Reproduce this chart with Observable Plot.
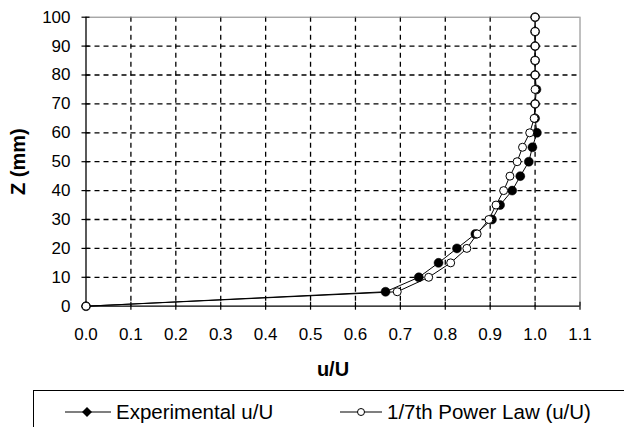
<!DOCTYPE html>
<html>
<head>
<meta charset="utf-8">
<script src="https://cdn.jsdelivr.net/npm/d3@7"></script>
<script src="https://cdn.jsdelivr.net/npm/@observablehq/plot@0.6"></script>
<style>
  html, body { margin: 0; padding: 0; background: #fff; }
  body { width: 624px; height: 427px; overflow: hidden; position: relative; font-family: "Liberation Sans", Arial, sans-serif; color: #000; }
  #chart { position: absolute; left: 0; top: 0; }
  #legend { position: absolute; left: 33px; top: 390px; width: 640px; height: 60px; border: 1px solid #000; box-sizing: border-box; }
  .item { position: absolute; top: 10px; height: 22px; display: flex; align-items: center; font-size: 20.5px; line-height: 1; white-space: nowrap; }
  .item svg { display: block; margin-right: 5px; }
</style>
</head>
<body>
<div id="chart"></div>
<div id="legend">
  <div class="item" style="left:31px">
    <svg width="46" height="14" viewBox="0 0 46 14"><line x1="0" y1="7" x2="46" y2="7" stroke="#000" stroke-width="1.2"/><path d="M22,2 L27,7 L22,12 L17,7 Z" fill="#000"/></svg>
    <span>Experimental u/U</span>
  </div>
  <div class="item" style="left:306px">
    <svg width="42" height="14" viewBox="0 0 42 14"><line x1="0" y1="7" x2="42" y2="7" stroke="#000" stroke-width="1.2"/><circle cx="21" cy="7" r="3.5" fill="#fff" stroke="#000" stroke-width="1"/></svg>
    <span>1/7th Power Law (u/U)</span>
  </div>
</div>
<script>
// Height above the floor, mm
const zExp = [0, 5, 10, 15, 20, 25, 30, 35, 40, 45, 50, 55, 60, 65, 70, 75, 80, 85, 90, 95, 100];
// Experimental u/U
const uExp = [0, 0.667, 0.741, 0.785, 0.826, 0.867, 0.904, 0.922, 0.949, 0.967, 0.986, 0.994, 1.004, 1.0, 1.0, 1.003, 1.0, 1.0, 1.0, 1.0, 1.0];
const zPow = [0, 5, 10, 15, 20, 25, 30, 35, 40, 45, 50, 55, 60, 65, 70, 75, 80, 85, 90, 95, 100];
// 1/7th power law u/U
const uPow = [0, 0.693, 0.763, 0.812, 0.848, 0.871, 0.897, 0.913, 0.930, 0.944, 0.960, 0.972, 0.988, 0.998, 1.0, 1.0, 1.0, 1.0, 1.0, 1.0, 1.0];

const xTicks = [0, 0.1, 0.2, 0.3, 0.4, 0.5, 0.6, 0.7, 0.8, 0.9, 1.0, 1.1];
const yTicks = [0, 10, 20, 30, 40, 50, 60, 70, 80, 90, 100];
const xDomain = [0, 1.1];
const yDomain = [0, 100];
const xLabel = "u/U";
const yLabel = "Z (mm)";

const expData = zExp.map((z, i) => ({ z, u: uExp[i] }));
const powData = zPow.map((z, i) => ({ z, u: uPow[i] }));
const xGrid = xTicks.slice(1, -1);
const yGrid = yTicks.slice(1, -1);

const dash = { stroke: "#000", strokeOpacity: 1, strokeWidth: 1.3, strokeDasharray: "5,4" };

const chart = Plot.plot({
  width: 624,
  height: 390,
  marginLeft: 85.5,
  marginRight: 44.5,
  marginTop: 16.7,
  marginBottom: 84.3,
  style: { fontFamily: "'Liberation Sans', Arial, sans-serif", fontSize: "17px", color: "#000", background: "#fff", overflow: "visible" },
  x: { domain: xDomain },
  y: { domain: yDomain },
  marks: [
    Plot.gridX(xGrid, dash),
    Plot.gridY(yGrid, dash),
    Plot.ruleY([yDomain[1]], { stroke: "#808080", strokeWidth: 1 }),
    Plot.ruleX([xDomain[1]], { stroke: "#808080", strokeWidth: 1 }),
    Plot.ruleX([xDomain[0]], { stroke: "#000", strokeWidth: 1.3 }),
    Plot.ruleY([yDomain[0]], { stroke: "#000", strokeWidth: 1.3 }),
    Plot.axisX(xTicks, { tickSize: 8, dy: -4, tickFormat: () => "", label: null, stroke: "#000", strokeWidth: 1.2 }),
    Plot.axisX(xTicks, { tickSize: 0, tickPadding: 21.8, tickFormat: d3.format(".1f"), label: null }),
    Plot.axisY(yTicks, { tickSize: 8, dx: 4, tickFormat: () => "", label: null, stroke: "#000", strokeWidth: 1.2 }),
    Plot.axisY(yTicks, { tickSize: 0, tickPadding: 15.5, label: null }),
    Plot.line(expData, { x: "u", y: "z", stroke: "#000", strokeWidth: 1 }),
    Plot.dot(expData, { x: "u", y: "z", r: 4.5, fill: "#000", stroke: "#000", strokeWidth: 0.5 }),
    Plot.line(powData, { x: "u", y: "z", stroke: "#000", strokeWidth: 1 }),
    Plot.dot(powData, { x: "u", y: "z", r: 4, fill: "#fff", stroke: "#000", strokeWidth: 1 }),
    Plot.text([xLabel], { frameAnchor: "bottom", dy: 63, lineAnchor: "middle", textAnchor: "middle", fontWeight: "bold", fontSize: 20, fill: "#000" }),
    Plot.text([yLabel], { frameAnchor: "left", dx: -67.5, rotate: -90, lineAnchor: "middle", textAnchor: "middle", fontWeight: "bold", fontSize: 20, fill: "#000" })
  ]
});
document.getElementById("chart").appendChild(chart);
</script>
</body>
</html>
